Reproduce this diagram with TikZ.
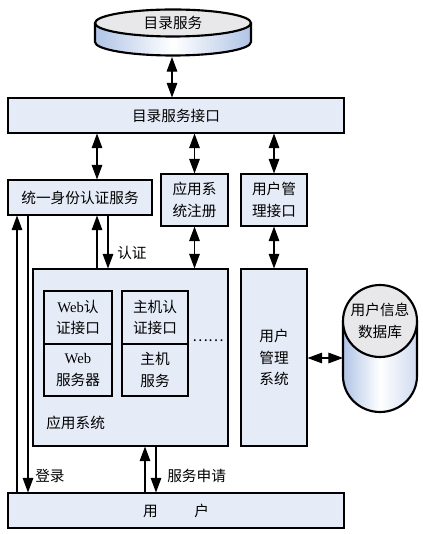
\documentclass[tikz,border=0pt]{standalone}
\usepackage{fontspec}
\setmainfont{Liberation Serif}
\newfontfamily\cjk{Noto Sans CJK SC}
\usetikzlibrary{arrows.meta}

\definecolor{boxfill}{RGB}{230,236,247}
\definecolor{discblue}{RGB}{176,196,230}
\definecolor{capgray}{RGB}{232,232,234}

\begin{document}
\begin{tikzpicture}[x=0.75pt,y=0.75pt,yscale=-1,xscale=1,
  box/.style={draw, line width=0.8pt, fill=boxfill, inner sep=0pt, align=center, font=\cjk\fontsize{11}{16}\selectfont},
  lbl/.style={inner sep=0.75pt, align=center, font=\cjk\fontsize{11}{16}\selectfont},
  dbl/.style={line width=0.8pt, {Triangle[length=11pt,width=8pt]}-{Triangle[length=11pt,width=8pt]}},
  one/.style={line width=0.8pt, -{Triangle[length=11pt,width=8pt]}}]
%set diagram size: 423 x 534
\useasboundingbox (0,0) rectangle (423,534);

%Shape: Disc [id:disc]
\shade[left color=discblue, right color=discblue, middle color=white] (95,23) -- (95,42) arc[start angle=180,end angle=0,x radius=78,y radius=13.5] -- (251,23) -- cycle;
\draw[line width=1.6pt] (95,23) -- (95,42) arc[start angle=180,end angle=0,x radius=78,y radius=13.5] -- (251,23);
\draw[line width=1.6pt, fill=capgray] (173,23) ellipse [x radius=78, y radius=13.5];
% Text Node
\node (dir) at (173,23) [lbl] {目录服务};
\coordinate (dirb) at (172,57);

%Shape: Cylinder [id:db]
\shade[left color=discblue, right color=discblue!60, middle color=white] (343,321) -- (343,376) arc[start angle=180,end angle=0,x radius=37,y radius=36] -- (417,321) -- cycle;
\draw[line width=1.6pt] (343,321) -- (343,376) arc[start angle=180,end angle=0,x radius=37,y radius=36] -- (417,321);
\draw[line width=1.6pt, fill=capgray] (380,321) ellipse [x radius=37, y radius=36];
% Text Node
\node (db) at (380,321) [lbl] {用户信息\\数据库};
\coordinate (dbw) at (343,358);

%Shape: Rectangles
\node (dirif) at (176,115.5) [box, minimum width=252pt, minimum height=26.25pt] {目录服务接口};
\node (auth) at (80,197.5) [box, minimum width=108pt, minimum height=26.25pt] {统一身份认证服务};
\node (appreg) at (194.5,200) [box, minimum width=50.25pt, minimum height=39pt] {应用系\\统注册};
\node (umif) at (274,200) [box, minimum width=49.5pt, minimum height=39pt] {用户管\\理接口};
\node (app) at (130.5,357.5) [box, minimum width=146.25pt, minimum height=132.75pt] {};
\node (ums) at (274,357.5) [box, minimum width=49.5pt, minimum height=132.75pt] {用户\\管理\\系统};
\node (webif) at (78,317.5) [box, minimum width=51pt, minimum height=39.75pt] {\rmfamily Web{\cjk 认}\\证接口};
\node (websrv) at (78,370) [box, minimum width=51pt, minimum height=39pt] {\rmfamily Web\\{\cjk 服务器}};
\node (hostif) at (155,317.5) [box, minimum width=49.5pt, minimum height=39.75pt] {主机认\\证接口};
\node (hostsrv) at (155,370) [box, minimum width=49.5pt, minimum height=39pt] {主机\\服务};
\node (user) at (176,510.5) [box, minimum width=252pt, minimum height=26.25pt] {用\hspace{2.5em}户};

% Text Node
\node (applbl) at (45,423) [lbl, anchor=west] {应用系统};
\node (more) at (208,341) [lbl] {……};

%connector x positions
\coordinate (xa) at (17,0);
\coordinate (xb) at (28,0);
\coordinate (xc) at (97,0);
\coordinate (xd) at (108,0);
\coordinate (xe) at (145,0);
\coordinate (xf) at (156,0);

%Connectors
\draw[dbl] (dirb) -- (dirb |- dirif.north);
\draw[dbl] (dirif.south -| xc) -- (auth.north -| xc);
\draw[dbl] (dirif.south -| appreg) -- (appreg.north);
\draw[dbl] (dirif.south -| umif) -- (umif.north);
\draw[dbl] (appreg.south) -- (app.north -| appreg);
\draw[dbl] (umif.south) -- (ums.north);
\draw[dbl] (ums.east |- dbw) -- (dbw);
\draw[one] (user.north -| xa) -- (auth.south -| xa);
\draw[one] (auth.south -| xb) -- (user.north -| xb);
\draw[one] (app.north -| xc) -- (auth.south -| xc);
\draw[one] (auth.south -| xd) -- (app.north -| xd);
\draw[one] (user.north -| xe) -- (app.south -| xe);
\draw[one] (app.south -| xf) -- (user.north -| xf);

% Text Node
\node (login) at (34,476) [lbl, anchor=west] {登录};
\node (check) at (116,253) [lbl, anchor=west] {认证};
\node (apply) at (166,476) [lbl, anchor=west] {服务申请};

\end{tikzpicture}
\end{document}
